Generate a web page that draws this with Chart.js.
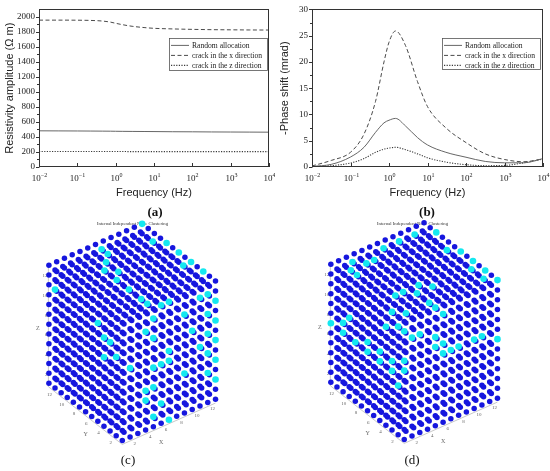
<!DOCTYPE html>
<html><head><meta charset="utf-8">
<script src="https://cdn.jsdelivr.net/npm/chart.js@4.4.0/dist/chart.umd.min.js"></script>
<style>
html,body{margin:0;padding:0;background:#fff;}
body{width:550px;height:471px;position:relative;overflow:hidden;}
canvas{position:absolute;}
.lab{position:absolute;font-family:'Liberation Serif',serif;font-size:13px;color:#111;transform:translate(-50%,-50%);white-space:nowrap;}
</style></head>
<body>
<canvas id="ca" width="275" height="200" style="left:0;top:0;width:275px;height:200px"></canvas>
<canvas id="cb" width="275" height="200" style="left:275px;top:0;width:275px;height:200px"></canvas>
<canvas id="cc" width="275" height="252" style="left:-5px;top:219px;width:275px;height:252px"></canvas>
<canvas id="cd" width="275" height="252" style="left:275px;top:219px;width:275px;height:252px"></canvas>
<div class="lab" style="left:155px;top:212px;font-weight:bold">(a)</div>
<div class="lab" style="left:427px;top:212px;font-weight:bold">(b)</div>
<div class="lab" style="left:128px;top:460px">(c)</div>
<div class="lab" style="left:412px;top:460px">(d)</div>
<script>
// ---------- data ----------
const freq = [0.01, 0.0316, 0.1, 0.224, 0.447, 0.741, 1, 1.48, 2.69, 5.5, 10, 30, 100, 316, 1000, 3162, 10000];
const randomAmp = [482, 481, 480, 479, 478, 477, 476, 475, 474, 473, 472, 470, 469, 467, 466, 465, 464];
const crackXAmp = [1957, 1957, 1956, 1953, 1945, 1930, 1915, 1897, 1875, 1858, 1848, 1840, 1834, 1830, 1828, 1826, 1825];
const crackZAmp = [206, 206, 206, 206, 206, 206, 206, 206, 205, 205, 205, 205, 205, 205, 205, 205, 205];
const randomPhase = [0.12, 0.5, 1.9, 3.75, 6.6, 8.4, 8.9, 9.25, 7.8, 5.6, 4.2, 2.8, 1.86, 1.06, 0.8, 0.8, 1.6];
const crackXPhase = [0.2, 1.25, 2.8, 6.25, 12.5, 20, 23.75, 25.9, 23.1, 16.25, 11.5, 7.45, 4.65, 2.5, 1.43, 1.0, 1.55];
const crackZPhase = [0.05, 0.25, 0.75, 1.6, 2.8, 3.4, 3.6, 3.75, 3.3, 2.5, 1.75, 0.93, 0.44, 0.25, 0.3, 0.8, 1.5];
const seriesLabels = ['Random allocation', 'crack in the x direction', 'crack in the z direction'];
const ampTicks = [0, 200, 400, 600, 800, 1000, 1200, 1400, 1600, 1800, 2000];
const phaseTicks = [0, 5, 10, 15, 20, 25, 30];
const freqTickExps = [-2, -1, 0, 1, 2, 3, 4];
const latticeIndex = [0,1,2,3,4,5,6,7,8,9,10,11,12];
const axisTickValues = [2, 4, 6, 8, 10, 12];
const clusterTitle = 'Internal Independent Node Clustering';
const cyanC = [
 [12,12,12],[6,11,12],[5,9,12],[6,10,12],[4,8,12],[5,7,12],[4,6,12],[4,4,12],[4,2,12],[4,1,12],[5,0,12],[6,0,12],
 [4,0,11],[3,0,10],[4,0,9],[6,0,7],[6,0,6],[5,0,6],[4,0,6],[4,0,4],[5,0,2],[4,0,1],[6,0,0],[3,0,3],[3,0,4],
 [0,4,10],[0,3,9],[0,2,9],[0,3,7],[0,1,8],[1,0,7],[0,11,10],
 [12,0,2],[12,0,4],[12,0,6],[12,0,8],[12,0,10],
 [12,2,12],[12,4,12],[12,6,12],[12,8,12],[11,9,12],
 [11,0,11],[11,0,9],[11,0,7],[11,0,5],[11,0,3],
 [10,0,11],[11,4,12],[8,0,10],[9,0,8],[10,0,6],[8,0,4]
];
const cyanD = [
 [10,11,12],[12,10,12],[8,11,12],[6,11,12],[2,11,12],[3,10,12],[4,10,12],[1,10,12],[1,9,12],
 [11,7,12],[12,6,12],[12,4,12],[12,2,12],[11,3,12],[11,1,12],[12,0,12],[12,0,6],
 [0,12,6],[0,9,8],[0,10,7],[0,10,6],[0,8,6],[0,6,7],[0,6,6],[0,4,7],[0,4,6],[0,2,7],[0,2,6],[0,0,7],[0,1,5],
 [2,4,12],[3,4,12],[4,3,12],[5,4,12],[6,3,12],[4,1,12],[4,0,12],[5,0,11],[0,2,12],[1,1,12],[0,1,11],[0,0,11],[0,3,10],
 [1,0,10],[2,0,10],[4,0,9],[5,0,8],[6,0,7],[7,0,7],[9,0,7],[10,0,7],[4,0,8],[5,0,7],[0,0,8]
];

// ---------- styles ----------
const lineStyles = [
  {color:'#666666', dash:[], width:1},
  {color:'#4a4a4a', dash:[4,2.5], width:1},
  {color:'#3a3a3a', dash:[1.2,1.4], width:1.1}
];
const serif = "'Liberation Serif', 'Times New Roman', serif";
const sans = "'Liberation Sans', Arial, sans-serif";

function line(ctx,x1,y1,x2,y2){ctx.beginPath();ctx.moveTo(x1,y1);ctx.lineTo(x2,y2);ctx.stroke();}

const framePlugin = {
  id:'frame',
  afterDraw(chart, args, opts){
    const ctx = chart.ctx, a = chart.chartArea, xs = chart.scales.x, ys = chart.scales.y;
    ctx.save();
    ctx.strokeStyle = '#333'; ctx.lineWidth = 1;
    ctx.strokeRect(Math.round(a.left)+0.5, Math.round(a.top)+0.5, Math.round(a.right-a.left)-1, Math.round(a.bottom-a.top)-1);
    const yt = opts.yTicks;
    yt.forEach((v,i)=>{
      const py = Math.round(ys.getPixelForValue(v))+0.5;
      line(ctx, a.left-3, py, a.left+0.5, py);
      if(i < yt.length-1){
        const pm = Math.round(ys.getPixelForValue((v+yt[i+1])/2))+0.5;
        line(ctx, a.left-2, pm, a.left+0.5, pm);
      }
    });
    ctx.fillStyle = '#222';
    opts.exps.forEach(e=>{
      const px = Math.round(xs.getPixelForValue(Math.pow(10,e)))+0.5;
      line(ctx, px, a.bottom, px, a.bottom-4);
      const expStr = e < 0 ? '\u2212' + Math.abs(e) : String(e);
      ctx.font = '9px ' + serif;
      const w10 = ctx.measureText('10').width;
      ctx.font = '6px ' + serif;
      const we = ctx.measureText(expStr).width;
      const start = px - (w10+we)/2;
      ctx.textAlign='left'; ctx.textBaseline='alphabetic';
      ctx.font = '9px ' + serif;
      ctx.fillText('10', start, a.bottom+14);
      ctx.font = '6px ' + serif;
      ctx.fillText(expStr, start+w10, a.bottom+10);
    });
    // legend box
    const L = opts.legend;
    const bx = a.right - L.rightGap - L.width, by = a.top + L.top;
    ctx.fillStyle = '#fff';
    ctx.fillRect(bx, by, L.width, L.height);
    ctx.strokeStyle = '#555'; ctx.lineWidth = 0.8;
    ctx.strokeRect(Math.round(bx)+0.5, Math.round(by)+0.5, L.width, L.height);
    chart.data.datasets.forEach((ds,i)=>{
      const ry = by + 7 + i*10;
      ctx.strokeStyle = ds.borderColor; ctx.lineWidth = ds.borderWidth;
      ctx.setLineDash(ds.borderDash || []);
      line(ctx, bx+2, ry, bx+20, ry);
      ctx.setLineDash([]);
      ctx.fillStyle = '#222'; ctx.font = '7.6px ' + serif; ctx.textBaseline='middle';
      ctx.fillText(ds.label, bx+23, ry+0.5);
    });
    ctx.restore();
  }
};

function makeLineChart(id, series, yTitle, yMax, yTicks, yWidth, padRight, legend){
  new Chart(document.getElementById(id), {
    type:'line',
    data:{ datasets: series.map((vals,i)=>({
      label: seriesLabels[i],
      data: freq.map((f,k)=>({x:f, y:vals[k]})),
      borderColor: lineStyles[i].color, borderDash: lineStyles[i].dash, borderWidth: lineStyles[i].width,
      pointRadius:0, fill:false, cubicInterpolationMode:'monotone'
    }))},
    options:{
      responsive:false, animation:false, events:[],
      layout:{padding:{left:0, top:6, right:padRight, bottom:0}},
      plugins:{legend:{display:false}, tooltip:{enabled:false},
        frame:{yTicks:yTicks, exps:freqTickExps, legend:legend}},
      scales:{
        x:{type:'logarithmic', min:0.01, max:10000,
          afterBuildTicks(s){ s.ticks = freqTickExps.map(e=>({value:Math.pow(10,e)})); },
          afterFit(s){ s.height = 33; },
          ticks:{display:false}, grid:{display:false}, border:{display:false},
          title:{display:true, text:'Frequency (Hz)', color:'#222', font:{family:sans, size:11}, padding:{top:0,bottom:0}}
        },
        y:{type:'linear', min:0, max:yMax,
          afterBuildTicks(s){ s.ticks = yTicks.map(v=>({value:v})); },
          afterFit(s){ s.width = yWidth; },
          ticks:{color:'#222', font:{family:serif, size:9}, padding:4, callback:(v)=>String(v)},
          grid:{display:false, drawTicks:false}, border:{display:false},
          title:{display:true, text:yTitle, color:'#222', font:{family:sans, size:11}, padding:{top:3,bottom:0}}
        }
      }
    },
    plugins:[framePlugin]
  });
}

makeLineChart('ca', [randomAmp, crackXAmp, crackZAmp], 'Resistivity amplitude (\u03A9 m)', 2100, ampTicks, 39, 6,
  {top:29, rightGap:2, width:98, height:32});
makeLineChart('cb', [randomPhase, crackXPhase, crackZPhase], '-Phase shift (mrad)', 30, phaseTicks, 37, 7,
  {top:29, rightGap:3, width:98, height:31});

// ---------- 3D lattice panels ----------
function proj(p){ return {x: p[0]*8 - p[1]*6.3, y: p[0]*3.5 + p[1]*4.85 + p[2]*10}; }
function nearness(p){ return -6.3*p[0] - 8*p[1] + 6.1*p[2]; }
// only the two outermost visible layers show through in the picture
function isVisibleShell(p){ return Math.min(p[0], p[1], 12 - p[2]) <= 1; }

const axes3dPlugin = {
  id:'axes3d',
  beforeDatasetsDraw(chart){
    const ctx = chart.ctx, xs = chart.scales.x, ys = chart.scales.y;
    const P = (p)=>{ const q = proj(p); return [xs.getPixelForValue(q.x), ys.getPixelForValue(q.y)]; };
    ctx.save();
    ctx.strokeStyle = '#b0b0b0'; ctx.lineWidth = 0.7;
    let a = P([0,0,-0.4]), b = P([12,0,-0.4]); line(ctx,a[0],a[1],b[0],b[1]);
    b = P([0,12,-0.4]); line(ctx,a[0],a[1],b[0],b[1]);
    a = P([0,12,-0.4]); b = P([0,12,12.2]); line(ctx,a[0]-0.5,a[1],b[0]-0.5,b[1]);
    ctx.fillStyle = '#666'; ctx.font = '5px ' + serif; ctx.textBaseline = 'middle';
    axisTickValues.forEach(k=>{
      let q = P([k,0,-1]); ctx.textAlign='center'; ctx.fillText(String(k), q[0]-3, q[1]);
      q = P([0,k,-1.2]); ctx.fillText(String(k), q[0]+0.6, q[1]);
      q = P([0,12,k-1.1]); ctx.textAlign='right'; ctx.fillText(String(k), q[0]-1.5, q[1]);
    });
    ctx.font = '6px ' + serif; ctx.textAlign='center';
    let q = P([5,0,-2]); ctx.fillText('X', q[0], q[1]);
    q = P([0,6,-2.3]); ctx.fillText('Y', q[0], q[1]);
    q = P([0,12,5.6]); ctx.fillText('Z', q[0]-11, q[1]);
    ctx.restore();
  }
};

const titleSize = 4.7, titlePadTop = 2;
const titleH = titleSize*1.2 + titlePadTop;

function makeLattice(id, cyanList, canvasLeft, canvasTop, W, H, originX, originY){
  const cyanKeys = new Set(cyanList.map(p=>p.join(',')));
  const pts = [];
  latticeIndex.forEach(i=>latticeIndex.forEach(j=>latticeIndex.forEach(k=>{
    const p = [i,j,k];
    if (isVisibleShell(p)) pts.push({p, cyan: cyanKeys.has(i+','+j+','+k)});
  })));
  pts.sort((u,v)=>nearness(u.p)-nearness(v.p));
  const data = pts.map(o=>proj(o.p));
  const colors = pts.map(o=>o.cyan ? 'rgb(20,232,240)' : 'rgb(22,22,222)');
  const radii = pts.map(o=>o.cyan ? 3.3 : 2.75);
  new Chart(document.getElementById(id), {
    type:'scatter',
    data:{datasets:[{data, pointBackgroundColor:colors, pointRadius:radii, pointBorderWidth:0, clip:false}]},
    options:{
      responsive:false, animation:false, events:[],
      layout:{padding:0},
      plugins:{legend:{display:false}, tooltip:{enabled:false},
        title:{display:true, text:clusterTitle, color:'#333', font:{family:serif, size:titleSize, weight:'normal'}, padding:{top:titlePadTop,bottom:0}}},
      scales:{
        x:{type:'linear', display:false, min: canvasLeft - originX, max: canvasLeft + W - originX},
        y:{type:'linear', display:false, min: originY - (canvasTop + H), max: originY - (canvasTop + titleH)}
      }
    },
    plugins:[axes3dPlugin]
  });
}

makeLattice('cc', cyanC, -5, 219, 275, 252, 122, 444);
makeLattice('cd', cyanD, 275, 219, 275, 252, 404, 443);
</script>
</body></html>
